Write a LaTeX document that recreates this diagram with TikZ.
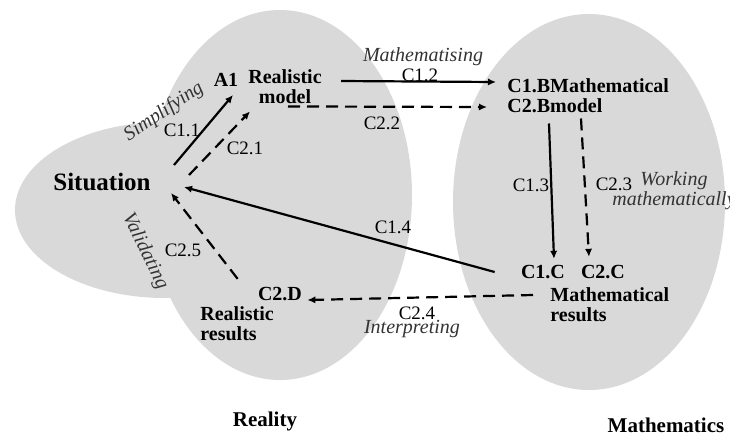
\documentclass[tikz,border=0pt]{standalone}
\usepackage{fontspec}
\setmainfont{Liberation Serif}
\usepackage{tikz}
\usetikzlibrary{arrows.meta,positioning,calc}
\definecolor{blobgray}{RGB}{217,217,217}

\begin{document}
\begin{tikzpicture}[
    x=0.5pt, y=-0.5pt,
    stage/.style={inner sep=0pt, align=left, font=\fontsize{10}{10}\selectfont\bfseries},
    clab/.style={inner sep=0pt, font=\fontsize{9.5}{10}\selectfont},
    verb/.style={inner sep=0pt, font=\fontsize{10}{10}\selectfont\itshape, text=black!80},
    solidarr/.style={line width=1.1pt, -{Latex[length=4pt,width=3.6pt]}},
    dasharr/.style={line width=1.1pt, dash pattern=on 6pt off 3.5pt, -{Latex[length=4pt,width=3.6pt]}}
]
    \useasboundingbox (0,0) rectangle (730,436);
    \fill[blobgray] (165,210) ellipse [x radius=150, y radius=88];
    \fill[blobgray] (280,195) ellipse [x radius=132, y radius=185];
    \fill[blobgray] (589,202) ellipse [x radius=136, y radius=188];

    \node[stage, font=\fontsize{12.5}{13}\selectfont\bfseries] (sit) at (102,182) {Situation};
    \node[stage] (a1) at (226,80) {A1};
    \node[stage, align=center] (rmod) at (285,87) {Realistic\\model};
    \node[stage, anchor=west] (mmod) at (507,96) {C1.BMathematical\\C2.Bmodel};
    \node[stage] (c1c) at (543,272) {C1.C};
    \node[stage] (c2c) at (603,272) {C2.C};
    \node[stage, anchor=west] (mres) at (550,305) {Mathematical\\results};
    \node[stage] (c2d) at (280,294) {C2.D};
    \node[stage, anchor=west] (rres) at (200,324) {Realistic\\results};
    \node[stage, font=\fontsize{10.5}{11}\selectfont\bfseries] (reality) at (265,421) {Reality};
    \node[stage, font=\fontsize{10.5}{11}\selectfont\bfseries] (maths) at (666,425) {Mathematics};

    \node[verb, rotate=34] (simp) at (164,112) {Simplifying};
    \node[verb, rotate=-64] (valid) at (145,251) {Validating};
    \node[verb] (mtis) at (423,57) {Mathematising};
    \node[verb] (interp) at (412,329) {Interpreting};
    \node[verb, align=center] (wmath) at (674,191) {Working\\mathematically};

    \node[clab] (l11) at (182,130) {C1.1};
    \node[clab] (l21) at (245,148) {C2.1};
    \node[clab] (l12) at (420,75) {C1.2};
    \node[clab] (l22) at (382,123) {C2.2};
    \node[clab] (l13) at (531,185) {C1.3};
    \node[clab] (l23) at (614,184) {C2.3};
    \node[clab] (l14) at (393,227) {C1.4};
    \node[clab] (l24) at (417,313) {C2.4};
    \node[clab] (l25) at (183,250) {C2.5};

    \draw[solidarr] ([shift={(23,-17)}]sit.east) -- ([shift={(7,8)}]a1.south);
    \draw[dasharr] ([shift={(38,-7)}]sit.east) -- ([shift={(-35,7)}]rmod.south);
    \draw[solidarr] ([shift={(19,-6)}]rmod.east) -- ([shift={(-11,-14)}]mmod.west);
    \draw[dasharr] ([shift={(3,2)}]rmod.south) -- ([shift={(-20,11)}]mmod.west);
    \draw[solidarr] ([shift={(42,10)}]mmod.south west) -- ([shift={(11,-6)}]c1c.north);
    \draw[dasharr] ([shift={(74,5)}]mmod.south west) -- ([shift={(-14,-8)}]c2c.north);
    \draw[solidarr] ([shift={(-26,0)}]c1c.west) -- ([shift={(33,5)}]sit.east);
    \draw[dasharr] ([shift={(-17,-10)}]mres.west) -- ([shift={(5,6)}]c2d.east);
    \draw[dasharr] ([shift={(-20,-8)}]c2d.north west) -- ([shift={(20,11)}]sit.east);
\end{tikzpicture}
\end{document}
